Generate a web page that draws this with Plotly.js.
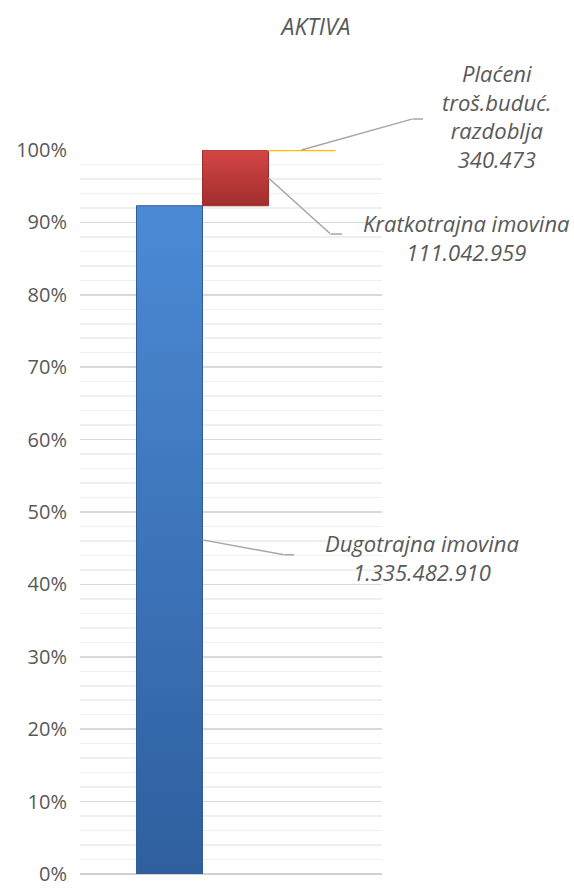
<!DOCTYPE html>
<html>
<head>
<meta charset="utf-8">
<script src="https://cdn.plot.ly/plotly-3.0.1.min.js"></script>
<style>html,body{margin:0;padding:0;background:#fff;}#chart{width:574px;height:888px;}</style>
</head>
<body>
<div id="chart"></div>
<script>
// ---- data ----
var categories = ["Dugotrajna imovina", "Kratkotrajna imovina", "Plaćeni<br>troš.buduć.<br>razdoblja"];
var values = [1335482910, 111042959, 340473];
var barColors = ["#3b73bf", "#bf3535", "#ffc000"];
var chartTitle = "AKTIVA";
var yTickVals = [0, 0.1, 0.2, 0.3, 0.4, 0.5, 0.6, 0.7, 0.8, 0.9, 1.0];
var yTickText = ["0%", "10%", "20%", "30%", "40%", "50%", "60%", "70%", "80%", "90%", "100%"];

function fmt(n) {
  return String(n).replace(/\B(?=(\d{3})+(?!\d))/g, ".");
}

var total = values.reduce(function (a, b) { return a + b; }, 0);
var frac = values.map(function (v) { return v / total; });
var bases = [];
var acc = 0;
frac.forEach(function (f) { bases.push(acc); acc += f; });
var xs = categories.map(function (c, i) { return i; });

var textColor = "#595959";
var fontFam = "'Open Sans', 'Noto Sans', sans-serif";

var trace = {
  type: "bar",
  x: xs,
  y: frac,
  base: bases,
  width: 1,
  marker: {
    color: barColors,
    line: { color: ["#2f5c99", "#9e2c2c", "#ffc000"], width: [1, 1, 2] }
  },
  hoverinfo: "none"
};

var anchors = [
  { x: xs[0] + 0.5, y: bases[0] + frac[0] / 2, ax: 82, ay: 15, stub: 10, tx: 220, ty: -18 },
  { x: xs[1] + 0.5, y: bases[1] + frac[1] / 2, ax: 62, ay: 56, stub: 12, tx: 198, ty: -60 },
  { x: xs[2], y: bases[2] + frac[2], ax: 111, ay: -31, stub: 11, tx: 196, ty: 34 }
];

var annotations = [];
var lineColor = "#a6a6a6";
anchors.forEach(function (a, i) {
  annotations.push({
    x: a.x, y: a.y, xref: "x", yref: "y",
    text: " ", font: { size: 1 }, borderpad: 0,
    showarrow: true, arrowhead: 0, arrowwidth: 1.5, arrowcolor: lineColor,
    ax: a.ax, ay: a.ay, standoff: 0, startstandoff: 0
  });
  annotations.push({
    x: a.x, y: a.y, xref: "x", yref: "y",
    xshift: a.ax, yshift: -a.ay,
    text: " ", font: { size: 1 }, borderpad: 0,
    showarrow: true, arrowhead: 0, arrowwidth: 1.5, arrowcolor: lineColor,
    ax: a.stub, ay: 0, standoff: 0, startstandoff: 0
  });
  annotations.push({
    x: a.x, y: a.y, xref: "x", yref: "y",
    xshift: a.tx, yshift: a.ty,
    xanchor: "center", yanchor: "middle", align: "center",
    showarrow: false,
    text: categories[i] + "<br>" + fmt(values[i]),
    font: { family: fontFam, size: 22, color: textColor, style: "italic" }
  });
});

var layout = {
  width: 574, height: 888,
  margin: { l: 80, r: 192, t: 150, b: 14 },
  paper_bgcolor: "#ffffff",
  plot_bgcolor: "#ffffff",
  showlegend: false,
  bargap: 0,
  title: {
    text: chartTitle,
    x: 316 / 574, xref: "container", xanchor: "center",
    y: 1 - 27 / 888, yref: "container", yanchor: "middle",
    font: { family: fontFam, size: 23, color: textColor, style: "italic" }
  },
  xaxis: {
    range: [-1.356, 3.22],
    showticklabels: false, showgrid: false, zeroline: false,
    showline: false, ticks: "", fixedrange: true
  },
  yaxis: {
    range: [0, 1],
    tickmode: "array", tickvals: yTickVals, ticktext: yTickText,
    ticks: "",
    ticklabelstandoff: 12,
    ticklabeloverflow: "allow",
    tickfont: { family: fontFam, size: 20, color: textColor },
    showgrid: true, gridcolor: "#d9d9d9", gridwidth: 1.5,
    minor: { tick0: 0, dtick: 0.02, showgrid: true, gridcolor: "#efefef", gridwidth: 1.5 },
    zeroline: true, zerolinecolor: "#d0d0d0", zerolinewidth: 1.5,
    showline: false, fixedrange: true
  },
  annotations: annotations
};

Plotly.newPlot("chart", [trace], layout, { displayModeBar: false, staticPlot: true }).then(function () {
  var svg = document.querySelector("#chart .main-svg");
  var ns = "http://www.w3.org/2000/svg";
  var defs = svg.querySelector("defs") || svg.insertBefore(document.createElementNS(ns, "defs"), svg.firstChild);
  var grads = [
    ["gBlue", "#4c8ad6", "#2f5f9e"],
    ["gRed", "#d44545", "#a22e2e"],
    ["gYel", "#ffc000", "#ffc000"]
  ];
  grads.forEach(function (g) {
    var lg = document.createElementNS(ns, "linearGradient");
    lg.setAttribute("id", g[0]);
    lg.setAttribute("x1", "0"); lg.setAttribute("y1", "0");
    lg.setAttribute("x2", "0"); lg.setAttribute("y2", "1");
    [[0, g[1]], [1, g[2]]].forEach(function (s) {
      var st = document.createElementNS(ns, "stop");
      st.setAttribute("offset", s[0]);
      st.setAttribute("stop-color", s[1]);
      lg.appendChild(st);
    });
    defs.appendChild(lg);
  });
  var paths = document.querySelectorAll("#chart .barlayer .point path");
  paths.forEach(function (p, i) {
    if (grads[i]) p.style.fill = "url(#" + grads[i][0] + ")";
  });
});
</script>
</body>
</html>
